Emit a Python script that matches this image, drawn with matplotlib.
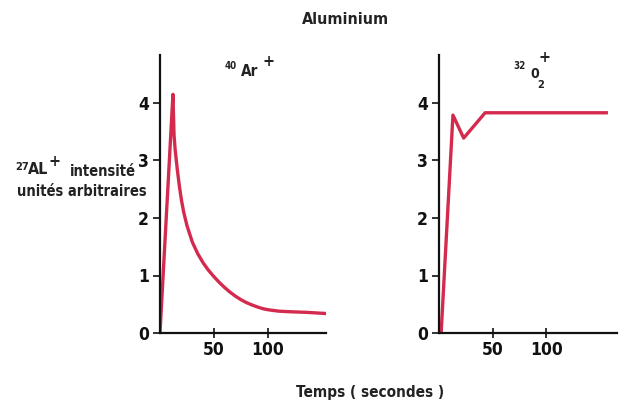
import matplotlib
matplotlib.use("Agg")
import matplotlib.pyplot as plt
from matplotlib import font_manager

# ---- data ----
ar_time = [0, 12, 13, 14, 16, 18, 20, 22, 25, 30, 35, 40, 45, 50, 55, 60, 65, 70, 75, 80,
           85, 90, 95, 100, 110, 120, 135, 153]
ar_intensity = [0, 4.15, 3.45, 3.2, 2.85, 2.55, 2.3, 2.1, 1.87, 1.58, 1.38, 1.22, 1.09, 0.98,
                0.88, 0.79, 0.71, 0.64, 0.58, 0.53, 0.49, 0.455, 0.425, 0.405, 0.38, 0.37, 0.36, 0.34]
o2_time = [2, 13, 23, 43, 156]
o2_intensity = [0, 3.79, 3.39, 3.83, 3.83]
x_ticks = [50, 100]
y_ticks = [0, 1, 2, 3, 4]

W, H = 627, 405
names = {f.name for f in font_manager.fontManager.ttflist}
if "Liberation Sans Narrow" in names:
    FONT = dict(family="Liberation Sans Narrow")
else:
    FONT = dict(family="DejaVu Sans", stretch="condensed")

RED = "#d42a4e"

fig = plt.figure(figsize=(W / 100, H / 100), dpi=100)
fig.patch.set_facecolor("white")


def px(x, y):
    return x / W, 1 - y / H


def txt(x, y, s, size, **kw):
    fx, fy = px(x, y)
    fig.text(fx, fy, s, fontsize=size, fontweight="bold", ha=kw.pop("ha", "center"),
             va=kw.pop("va", "center"), color="#222222", **FONT, **kw)


def make_ax(left_px, right_px, xmax, t, v):
    l, b = px(left_px, 333)
    _, top = px(0, 55)
    ax = fig.add_axes([l, b, (right_px - left_px) / W, top - b])
    ax.plot(t, v, color=RED, lw=2.4, solid_joinstyle="round")
    ax.set_xlim(0, xmax)
    ax.set_ylim(0, 278 / 57.5)
    for s in ("top", "right"):
        ax.spines[s].set_visible(False)
    for s in ("left", "bottom"):
        ax.spines[s].set_linewidth(1.6)
        ax.spines[s].set_color("#111111")
    ax.set_xticks(x_ticks)
    ax.set_yticks(y_ticks)
    ax.tick_params(axis="x", direction="inout", length=7, width=1.2, pad=2, colors="#111111")
    ax.tick_params(axis="y", direction="out", length=5, width=1.2, pad=3, colors="#111111")
    for lab in ax.get_xticklabels() + ax.get_yticklabels():
        lab.set_fontsize(12.5)
        lab.set_fontweight("bold")
        lab.set_fontfamily(FONT["family"])
        if "stretch" in FONT:
            lab.set_fontstretch(FONT["stretch"])
    ax.patch.set_alpha(0)
    return ax


ax1 = make_ax(160, 326, 154, ar_time, ar_intensity)
ax2 = make_ax(439, 617, 166, o2_time, o2_intensity)

# titles
txt(345, 20, "Aluminium", 11.5)
txt(231, 66, "40", 7)
txt(250, 72, "Ar", 11)
txt(269, 61, "+", 11.5)
txt(520, 66, "32", 7)
txt(535, 74, "0", 10)
txt(541, 85, "2", 8)
txt(544, 58, "+", 11.5)

# y-axis label
txt(22, 167, "27", 8)
txt(38, 170, "AL", 11.5)
txt(54, 162, "+", 11.5)
txt(70, 171, "intensité", 10.5, ha="left")
txt(82, 191, "unités arbitraires", 10.5)

# x label
txt(370, 393, "Temps ( secondes )", 11)

fig.savefig("out.png", dpi=100, facecolor="white")
